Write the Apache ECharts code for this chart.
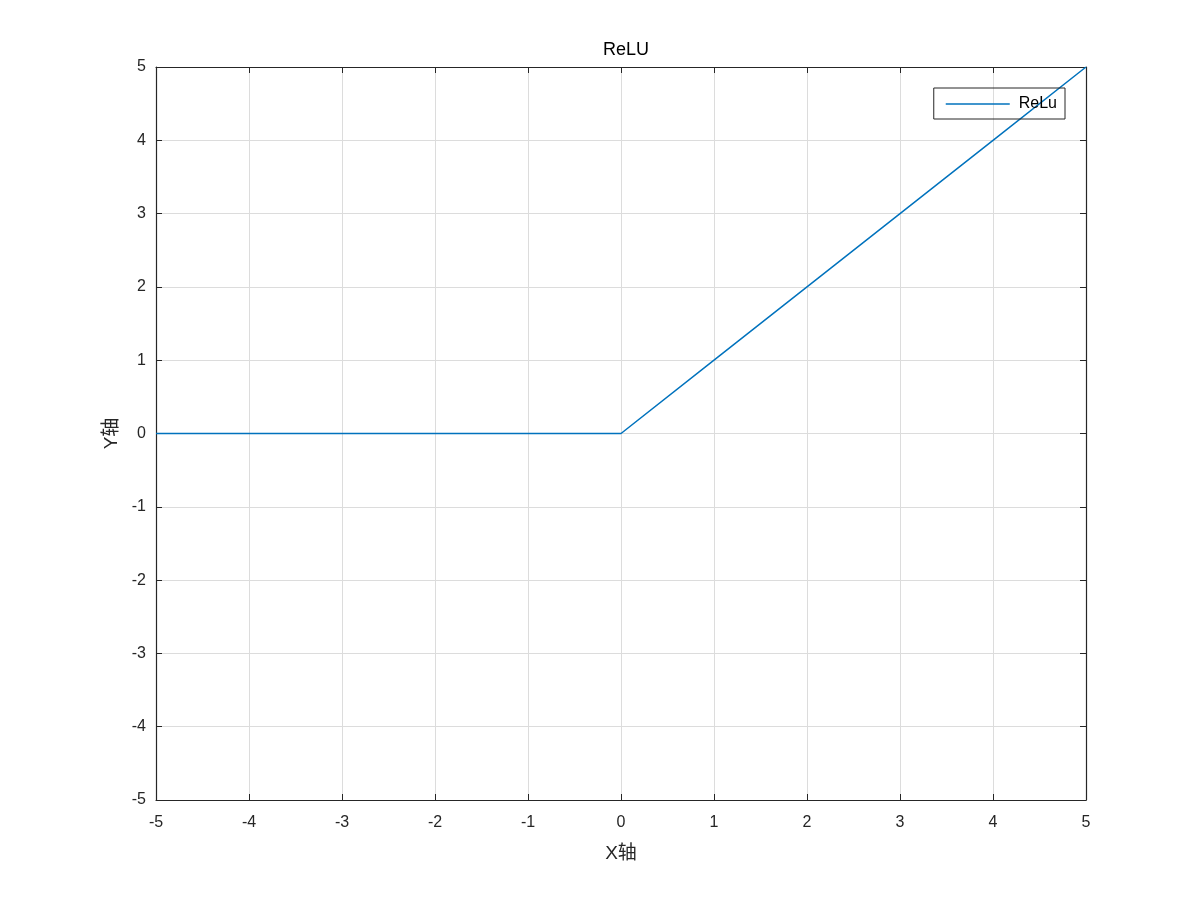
<!DOCTYPE html>
<html>
<head>
<meta charset="utf-8">
<script src="https://cdn.jsdelivr.net/npm/echarts@6/dist/echarts.min.js"></script>
<style>
  html, body { margin: 0; padding: 0; background: #fff; }
  #chart { width: 1200px; height: 900px; }
</style>
</head>
<body>
<div id="chart"></div>
<script>
// ReLU sample points
const xValues = [-5, -4, -3, -2, -1, 0, 1, 2, 3, 4, 5];
const yValues = [0, 0, 0, 0, 0, 0, 1, 2, 3, 4, 5];
const seriesName = "ReLu";

const ink = "#262626";
const font = "Arial, 'Liberation Sans', 'Noto Sans CJK SC', sans-serif";

const chart = echarts.init(document.getElementById("chart"));

const baseAxis = {
  type: "value",
  min: -5,
  max: 5,
  interval: 1,
  axisLine: { show: true, onZero: false, lineStyle: { color: ink, width: 1.2 } },
  axisTick: { show: true, inside: true, length: 6, lineStyle: { color: ink } },
};

const option = {
  animation: false,
  backgroundColor: "#fff",
  title: {
    text: "ReLU",
    left: 621,
    textAlign: "center",
    top: 36,
    textStyle: { fontFamily: font, fontSize: 18, fontWeight: "normal", color: "#000" },
  },
  legend: {
    right: 135,
    top: 88,
    orient: "vertical",
    borderColor: ink,
    borderWidth: 1,
    borderRadius: 0,
    padding: [8, 8, 7, 12],
    itemWidth: 64,
    itemHeight: 1.5,
    textStyle: { fontFamily: font, fontSize: 16, color: "#000", padding: [0, 0, 0, 4] },
    data: [{ name: seriesName, icon: "rect" }],
  },
  grid: { left: 156, right: 114, top: 67, bottom: 100 },
  xAxis: [
    Object.assign({}, baseAxis, {
      position: "bottom",
      name: "X轴",
      nameLocation: "middle",
      nameGap: 44,
      nameTextStyle: { fontFamily: font, fontSize: 19, color: ink },
      axisLabel: { fontFamily: font, fontSize: 16, color: ink, margin: 15 },
      splitLine: { show: true, lineStyle: { color: "#dcdcdc", width: 1 } },
    }),
    Object.assign({}, baseAxis, {
      position: "top",
      axisLabel: { show: false },
      splitLine: { show: false },
    }),
  ],
  yAxis: [
    Object.assign({}, baseAxis, {
      position: "left",
      name: "Y轴",
      nameLocation: "middle",
      nameGap: 34,
      nameTextStyle: { fontFamily: font, fontSize: 19, color: ink },
      axisLabel: { fontFamily: font, fontSize: 16, color: ink, margin: 10 },
      splitLine: { show: true, lineStyle: { color: "#dcdcdc", width: 1 } },
    }),
    Object.assign({}, baseAxis, {
      position: "right",
      axisLabel: { show: false },
      splitLine: { show: false },
    }),
  ],
  series: [
    {
      name: seriesName,
      type: "line",
      xAxisIndex: 0,
      yAxisIndex: 0,
      symbol: "none",
      lineStyle: { color: "#0072bd", width: 1.5 },
      itemStyle: { color: "#0072bd" },
      data: xValues.map((x, i) => [x, yValues[i]]),
    },
  ],
};

chart.setOption(option);
</script>
</body>
</html>
